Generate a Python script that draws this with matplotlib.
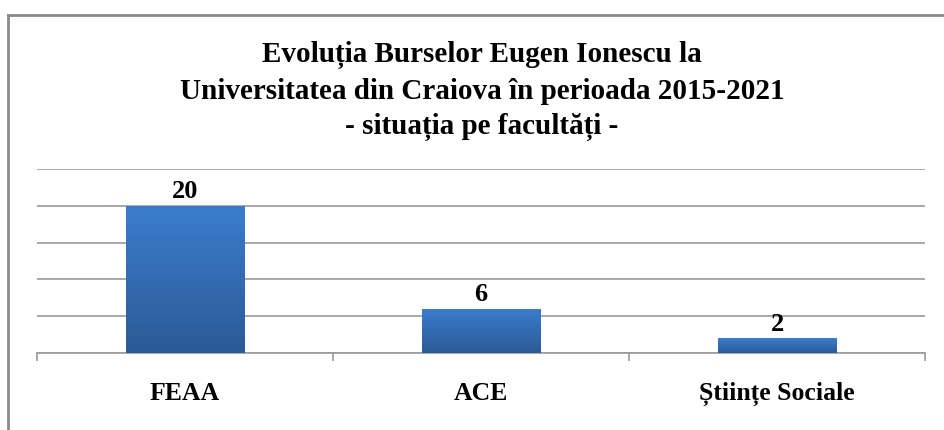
import matplotlib
matplotlib.use("Agg")
import matplotlib.pyplot as plt
import numpy as np
from matplotlib.colors import LinearSegmentedColormap
from matplotlib.lines import Line2D

categories = ["FEAA", "ACE", "Științe Sociale"]
values = [20, 6, 2]
title_lines = ["Evoluția Burselor Eugen Ionescu la",
               "Universitatea din Craiova în perioada 2015-2021",
               "- situația pe facultăți -"]

serif = ["Liberation Serif", "DejaVu Serif"]

fig = plt.figure(figsize=(9.44, 4.31), dpi=100)
ax = fig.add_axes([37/944, 1-354/431, (925-37)/944, (354-170)/431])

x = np.arange(len(categories))
bars = ax.bar(x, values, width=0.4, color="#3570BA", zorder=2)
ax.set_xlim(-0.5, len(categories)-0.5)
ax.set_ylim(0, 25)
ax.set_yticks([0, 5, 10, 15, 20, 25])
ax.yaxis.grid(True, color="#9a9a9a", linewidth=1.2, zorder=0)
ax.tick_params(axis="y", left=False, labelleft=False)
for s in ["left", "right", "top"]:
    ax.spines[s].set_visible(False)
ax.spines["bottom"].set_color("#9a9a9a")
ax.spines["bottom"].set_linewidth(1.2)

# gradient fill
cmap = LinearSegmentedColormap.from_list("g", ["#2B5A96", "#3B7DCD"])
grad = np.linspace(0, 1, 256).reshape(-1, 1)
for b in bars:
    x0, y0 = b.get_x(), b.get_y()
    w, h = b.get_width(), b.get_height()
    im = ax.imshow(grad, cmap=cmap, aspect="auto", origin="lower",
                   extent=[x0, x0+w, y0, y0+h], zorder=3)
    im.set_clip_path(b)
ax.set_xlim(-0.5, len(categories)-0.5)
ax.set_ylim(0, 25)

# category ticks on boundaries
ax.set_xticks(np.arange(len(categories)+1) - 0.5)
ax.set_xticklabels([])
ax.tick_params(axis="x", length=6, color="#9a9a9a", width=1.2, direction="out")
for i, c in enumerate(categories):
    ax.text(i, -5.4, c, ha="center", va="center", fontsize=18.5,
            fontweight="bold", family=serif)

for i, v in enumerate(values):
    ax.text(i, v + 0.5, str(v), ha="center", va="bottom", fontsize=19,
            fontweight="bold", family=serif, zorder=4)

ys = [55, 92, 127]
for t, yy in zip(title_lines, ys):
    fig.text(482/944, 1-yy/431, t, ha="center", va="center", fontsize=21,
             fontweight="bold", family=serif)

# chart border
fig.add_artist(Line2D([8/944, 8/944], [0, 1-16/431], transform=fig.transFigure,
                      color="#8a8a8a", linewidth=2))
fig.add_artist(Line2D([8/944, 1], [1-16/431, 1-16/431], transform=fig.transFigure,
                      color="#8a8a8a", linewidth=2))

fig.savefig("out.png", dpi=100)
